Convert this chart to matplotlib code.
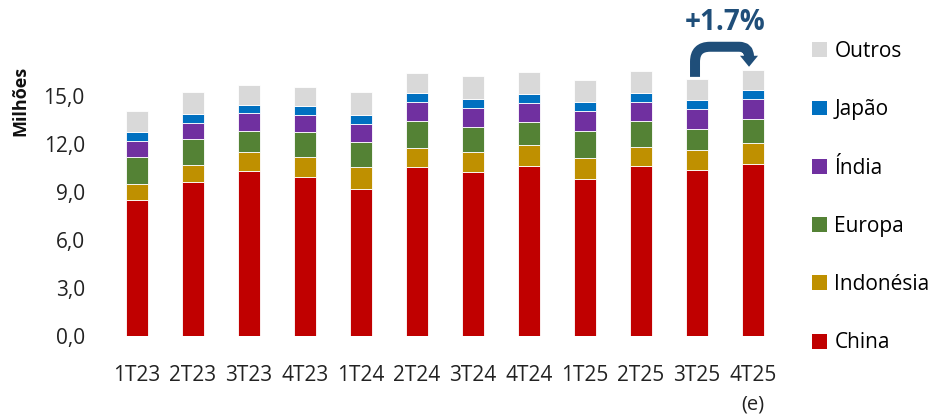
import matplotlib
matplotlib.use("Agg")
import matplotlib.pyplot as plt
from matplotlib.patches import PathPatch, Polygon, Patch
from matplotlib.path import Path
from matplotlib.transforms import IdentityTransform
from matplotlib.ticker import FuncFormatter
import numpy as np

plt.rcParams["font.family"] = ["Open Sans", "DejaVu Sans"]

# Quarterly consumption by region (millions)
quarters = ["1T23", "2T23", "3T23", "4T23", "1T24", "2T24",
            "3T24", "4T24", "1T25", "2T25", "3T25", "4T25"]
china = [8.50, 9.63, 10.33, 9.94, 9.21, 10.54, 10.27, 10.64, 9.81, 10.60, 10.35, 10.73]
indonesia = [0.98, 1.06, 1.15, 1.23, 1.33, 1.23, 1.23, 1.30, 1.33, 1.19, 1.25, 1.31]
europa = [1.69, 1.60, 1.35, 1.60, 1.56, 1.65, 1.56, 1.44, 1.65, 1.63, 1.31, 1.52]
india = [1.00, 1.04, 1.09, 1.06, 1.13, 1.19, 1.17, 1.17, 1.27, 1.19, 1.25, 1.23]
japao = [0.58, 0.54, 0.54, 0.54, 0.58, 0.56, 0.58, 0.60, 0.56, 0.56, 0.60, 0.60]
outros = [1.31, 1.37, 1.25, 1.21, 1.42, 1.25, 1.44, 1.38, 1.35, 1.37, 1.31, 1.25]
growth_label = "+1.7%"
estimate_note = "(e)"

series = [
    ("China", china, "#C00000"),
    ("Indonésia", indonesia, "#BF9000"),
    ("Europa", europa, "#548235"),
    ("Índia", india, "#7030A0"),
    ("Japão", japao, "#0070C0"),
    ("Outros", outros, "#D9D9D9"),
]

W, H = 951, 416
fig = plt.figure(figsize=(W / 100, H / 100), dpi=100)
ax = fig.add_axes([100 / W, 80 / H, 685 / W, 280 / H])

x = np.arange(len(quarters))
bottom = np.zeros(len(quarters))
for name, vals, color in series:
    vals = np.array(vals)
    ax.bar(x, vals, width=0.39, bottom=bottom, color=color,
           edgecolor="white", linewidth=0.6, label=name)
    bottom += vals

ax.set_xlim(-0.66, 11.571)
ax.set_ylim(0, 17.5)
ax.set_yticks(np.arange(0, 16, 3))
ax.yaxis.set_major_formatter(FuncFormatter(lambda v, p: f"{v:.1f}".replace(".", ",")))
ax.set_xticks(x)
ax.set_xticklabels(quarters)
ax.tick_params(axis="both", length=0, labelsize=15, colors="#222222")
ax.tick_params(axis="x", pad=21)
ax.tick_params(axis="y", pad=11)
for s in ax.spines.values():
    s.set_visible(False)

fig.text(20 / W, 1 - 101 / H, "Milhões", rotation=90, fontsize=13,
         fontweight="bold", ha="center", va="center", color="#111111")

# "(e)" note under the last quarter
ax.annotate(estimate_note, xy=(x[-1], 0), xycoords="data", xytext=(0, -49),
            textcoords="offset points", ha="center", va="center",
            fontsize=14.5, color="#222222", annotation_clip=False)

# Bent arrow from the 3T25 bar to the 4T25 bar (built in pixel space)
sx, sy = ax.transData.transform((x[-2], bottom[-2]))
ex, ey = ax.transData.transform((x[-1], bottom[-1]))
lx, rx = sx - 2, ex - 4
top = max(sy, ey) + 23
tip = ey + 3
base = top - 10
verts = [(lx, sy + 2), (lx, top - 15), (lx, top), (lx + 15, top),
         (rx - 10, top), (rx, top), (rx, base)]
codes = [Path.MOVETO, Path.LINETO, Path.CURVE3, Path.CURVE3,
         Path.LINETO, Path.CURVE3, Path.CURVE3]
arrow_color = "#1F4E79"
fig.add_artist(PathPatch(Path(verts, codes), transform=IdentityTransform(),
                         fill=False, edgecolor=arrow_color, linewidth=7.2,
                         capstyle="butt", joinstyle="round"))
fig.add_artist(Polygon([(rx - 9, base + 1), (rx + 9, base + 1), (rx, tip)],
                       closed=True, transform=IdentityTransform(),
                       facecolor=arrow_color, edgecolor="none"))
ax.text((x[-2] + x[-1]) / 2 + 0.0, 19.6, growth_label, ha="center", va="center",
        fontsize=20, fontweight="bold", color=arrow_color, clip_on=False)

handles = [Patch(facecolor=c, edgecolor="none") for _, _, c in series][::-1]
labels = [n for n, _, _ in series][::-1]
fig.legend(handles, labels, loc="upper left", bbox_to_anchor=(812 / W, 1 - 41 / H),
           frameon=False, fontsize=15, labelspacing=1.79, handlelength=0.72,
           handleheight=0.72, handletextpad=0.35, borderaxespad=0, borderpad=0)

fig.savefig("out.png", dpi=100)
